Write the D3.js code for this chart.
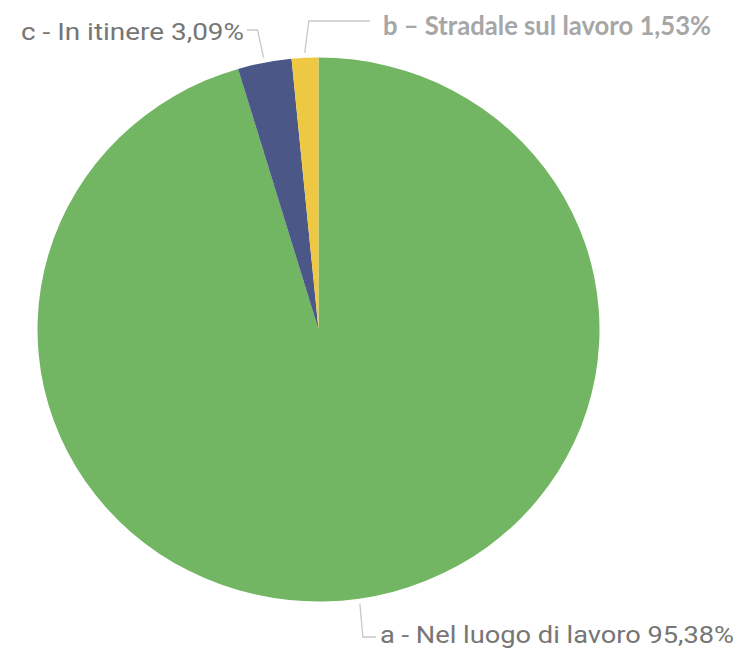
<!DOCTYPE html>
<html lang="it">
<head>
  <meta charset="utf-8">
  <script src="https://d3js.org/d3.v7.min.js"></script>
  <style>
    body { margin: 0; background: #fff; }
  </style>
</head>
<body>
  <div id="my_dataviz"></div>
  <script>
    // data (Excel order, clockwise from 12 o'clock)
    var categories = ["a - Nel luogo di lavoro", "c - In itinere", "b \u2013 Stradale sul lavoro"];
    var values = [95.38, 3.09, 1.53];
    var labels = ["a - Nel luogo di lavoro 95,38%", "c - In itinere 3,09%", "b \u2013 Stradale sul lavoro 1,53%"];
    var colors = ["#72b562", "#4a5787", "#eec843"];

    var width = 740, height = 648;
    var cx = 318.5, cy = 329.5, rx = 281, ry = 272;

    var svg = d3.select("#my_dataviz")
      .append("svg")
      .attr("width", width)
      .attr("height", height);

    var pie = d3.pie().sort(null).value(function (d) { return d; });
    var arcs = pie(values);
    var arc = d3.arc().innerRadius(0).outerRadius(rx);

    var g = svg.append("g")
      .attr("transform", "translate(" + cx + "," + cy + ") scale(1," + (ry / rx) + ")");

    g.selectAll("path")
      .data(arcs)
      .enter()
      .append("path")
      .attr("d", arc)
      .attr("fill", function (d, i) { return colors[i]; });

    // point on the (slightly squashed) rim at a given angle
    function rim(a, extra) {
      return [cx + Math.sin(a) * (rx + extra), cy - Math.cos(a) * (ry + extra)];
    }
    function mid(d) { return (d.startAngle + d.endAngle) / 2; }

    var lineCol = "#c8c8c8";

    // a label (bottom)
    var pa = rim(mid(arcs[0]), 5);
    svg.append("polyline")
      .attr("points", [pa, [pa[0] + 3, 637], [376, 637]].map(String).join(" "))
      .attr("fill", "none").attr("stroke", lineCol).attr("stroke-width", 1.3);
    svg.append("text")
      .attr("x", 380).attr("y", 643)
      .attr("font-family", "Roboto, sans-serif")
      .attr("font-size", 24)
      .attr("fill", "#767676")
      .attr("textLength", 354).attr("lengthAdjust", "spacingAndGlyphs")
      .text(labels[0]);

    // c label (top left)
    var pc = rim(mid(arcs[1]), 5);
    svg.append("polyline")
      .attr("points", [pc, [pc[0] - 6, 30], [247, 30]].map(String).join(" "))
      .attr("fill", "none").attr("stroke", lineCol).attr("stroke-width", 1.3);
    svg.append("text")
      .attr("x", 21).attr("y", 40)
      .attr("font-family", "Roboto, sans-serif")
      .attr("font-size", 24)
      .attr("fill", "#767676")
      .attr("textLength", 223).attr("lengthAdjust", "spacingAndGlyphs")
      .text(labels[1]);

    // b label (top right)
    var pb = rim(mid(arcs[2]), 5);
    svg.append("polyline")
      .attr("points", [pb, [pb[0] + 4, 21], [370, 21]].map(String).join(" "))
      .attr("fill", "none").attr("stroke", lineCol).attr("stroke-width", 1.3);
    svg.append("text")
      .attr("x", 383).attr("y", 35)
      .attr("font-family", "Lato, sans-serif")
      .attr("font-weight", "bold")
      .attr("font-size", 27)
      .attr("fill", "#a6a6a6")
      .attr("textLength", 328).attr("lengthAdjust", "spacingAndGlyphs")
      .text(labels[2]);
  </script>
</body>
</html>
